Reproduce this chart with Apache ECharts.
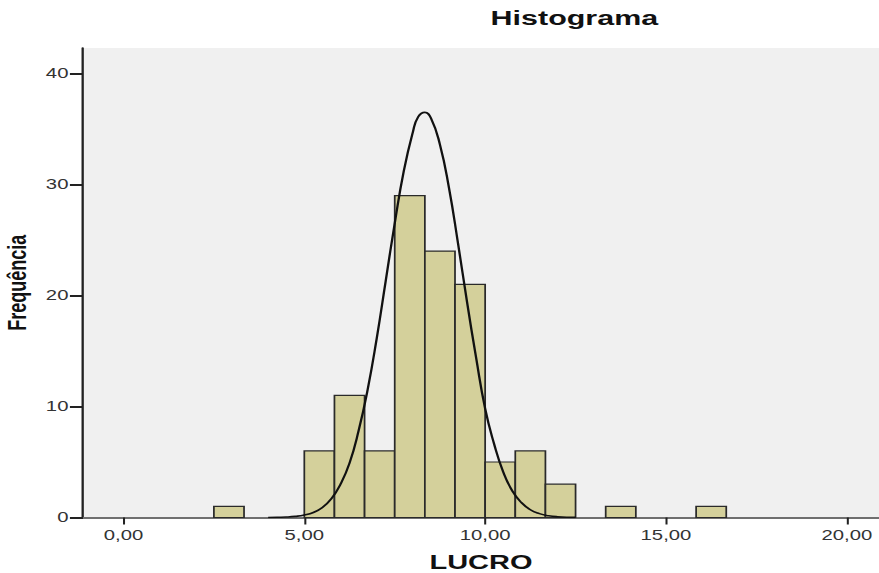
<!DOCTYPE html>
<html>
<head>
<meta charset="utf-8">
<script src="https://cdn.jsdelivr.net/npm/echarts@6/dist/echarts.min.js"></script>
<style>
  html, body { margin: 0; padding: 0; background: #fff; overflow: hidden; }
  /* the original output is stretched sideways, so the chart is drawn narrow and scaled */
  #main { width: 606px; height: 573px; transform: scaleX(1.4505); transform-origin: 0 0; }
</style>
</head>
<body>
<div id="main"></div>
<script>
// histogram bins (lower edge) and counts
var binWidth = 5 / 6;
var binStart = [2.5, 5.0, 5.8333, 6.6667, 7.5, 8.3333, 9.1667, 10.0, 10.8333, 11.6667, 13.3333, 15.8333];
var frequency = [1, 6, 11, 6, 29, 24, 21, 5, 6, 3, 1, 1];

// normal curve
var curveX = [4.0, 4.25, 4.5, 4.75, 5.0, 5.25, 5.5, 5.75, 6.0, 6.25, 6.5, 6.75, 7.0, 7.25, 7.5, 7.75,
  8.0, 8.15, 8.33, 8.5, 8.75, 9.0, 9.25, 9.5, 9.75, 10.0, 10.25, 10.5, 10.75, 11.0, 11.25, 11.5, 11.75, 12.0, 12.5];
var curveY = [0.0, 0.02, 0.04, 0.1, 0.22, 0.45, 0.9, 1.7, 3.0, 4.9, 7.8, 11.5, 16.1, 21.3, 26.5, 31.2,
  34.7, 36.1, 36.5, 36.0, 33.6, 29.7, 24.7, 19.4, 14.4, 9.8, 6.6, 4.1, 2.4, 1.35, 0.7, 0.35, 0.16, 0.07, 0.01];

var xTicks = [0, 5, 10, 15, 20];
var xTickLabels = ['0,00', '5,00', '10,00', '15,00', '20,00'];
var yTicks = [0, 10, 20, 30, 40];

(function() {
  var myChart = echarts.init(document.getElementById('main'), null, { renderer: 'svg' });
  var font = 'Liberation Sans, Arial, sans-serif';

  var bins = [];
  binStart.forEach(function(x, i) {
    bins.push([x, x + binWidth, frequency[i]]);
  });
  var curve = [];
  curveX.forEach(function(x, i) {
    curve.push([x, curveY[i]]);
  });

  var option = {
    animation: false,
    backgroundColor: '#ffffff',
    grid: {
      left: 57.2,
      right: 0,
      top: 48,
      bottom: 55.5,
      containLabel: false,
      outerBoundsMode: 'none',
      show: true,
      backgroundColor: '#f0f0f0',
      borderWidth: 0
    },
    graphic: [{
      type: 'text',
      x: 396,
      y: 17.5,
      style: {
        text: 'Histograma',
        textAlign: 'center',
        textVerticalAlign: 'middle',
        font: 'bold 21px ' + font,
        fill: '#111'
      }
    }],
    xAxis: [{
      type: 'value',
      min: -1.12,
      max: 20.89,
      name: 'LUCRO',
      nameLocation: 'middle',
      nameGap: 34,
      nameTextStyle: { fontFamily: font, fontWeight: 'bold', fontSize: 20, color: '#111' },
      axisLine: { show: true, onZero: false, lineStyle: { color: '#222', width: 2 } },
      axisTick: { show: true, customValues: xTicks, length: 7, lineStyle: { color: '#222', width: 1.4 } },
      axisLabel: {
        customValues: xTicks,
        margin: 11,
        fontFamily: font,
        fontSize: 14,
        color: '#333',
        formatter: function(v) {
          var i = xTicks.indexOf(v);
          return i >= 0 ? xTickLabels[i] : '';
        }
      },
      splitLine: { show: false }
    }, {
      type: 'value',
      position: 'top',
      min: -1.12,
      max: 20.89,
      axisLine: { show: true, lineStyle: { color: '#8a8a8a', width: 1.5 } },
      axisTick: { show: false },
      axisLabel: { show: false },
      splitLine: { show: false }
    }],
    yAxis: {
      type: 'value',
      min: 0,
      max: 42.3,
      name: 'Frequência',
      nameLocation: 'middle',
      nameGap: 34,
      nameTextStyle: { fontFamily: font, fontWeight: 'bold', fontSize: 18, color: '#111' },
      axisLine: { show: true, onZero: false, lineStyle: { color: '#222', width: 1.6 } },
      axisTick: { show: true, customValues: yTicks, length: 9, lineStyle: { color: '#222', width: 2 } },
      axisLabel: {
        customValues: yTicks,
        margin: 10,
        fontFamily: font,
        fontSize: 14,
        color: '#333'
      },
      splitLine: { show: false }
    },
    series: [{
      name: 'Frequência',
      type: 'custom',
      xAxisIndex: 0,
      z: 2,
      data: bins,
      encode: { x: [0, 1], y: 2 },
      renderItem: function(params, api) {
        var p0 = api.coord([api.value(0), api.value(2)]);
        var p1 = api.coord([api.value(1), 0]);
        return {
          type: 'rect',
          shape: { x: p0[0], y: p0[1], width: p1[0] - p0[0], height: p1[1] - p0[1] },
          style: { fill: '#d4d09b', stroke: '#2a2a2a', lineWidth: 1.2 }
        };
      }
    }, {
      name: 'Normal',
      type: 'line',
      xAxisIndex: 0,
      z: 3,
      data: curve,
      smooth: true,
      symbol: 'none',
      lineStyle: { color: '#111', width: 1.6 }
    }]
  };
  myChart.setOption(option);
})();
</script>
</body>
</html>
